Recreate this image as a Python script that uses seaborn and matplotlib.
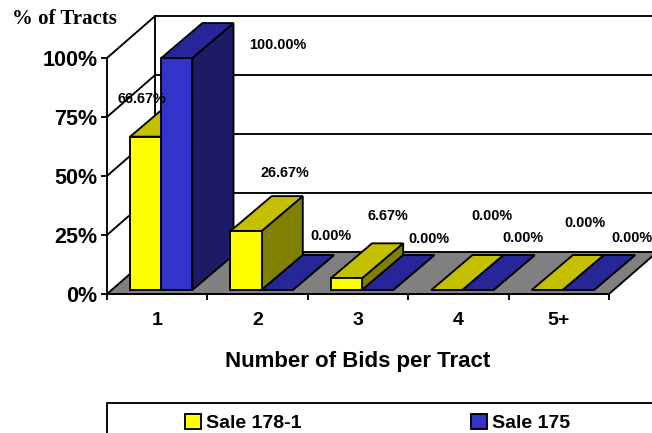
import matplotlib
matplotlib.use('Agg')
import matplotlib.pyplot as plt
from matplotlib.patches import Polygon, Rectangle
import pandas as pd
import seaborn as sns

bids = ['1', '2', '3', '4', '5+']
sale_names = ['Sale 178-1', 'Sale 175']
sale_178 = [66.67, 26.67, 6.67, 0.0, 0.0]
sale_175 = [100.0, 0.0, 0.0, 0.0, 0.0]
y_ticks = [0, 25, 50, 75, 100]

# colours per series: front, top, side
front_cols = ['#FFFF00', '#3333CC']
top_cols = ['#C4C000', '#262699']
side_cols = ['#808000', '#1C1C66']

# depth of the fake 3d box, in data units
wall_dx, wall_dy = 0.48, 17.8
bar_dx, bar_dy = 0.41, 14.8
bar_shift, bar_base = 0.04, 1.7

# label offsets from the top centre of each bar, pixels (right, up)
offs_178 = [(-4, 38), (39, 58), (41, 62), (45, 78), (38, 71)]
offs_175 = [(101, 13), (54, 58), (51, 55), (45, 56), (54, 56)]

LW = 1.35
FW, FH = 652, 433

sns.set_style('white')
plt.rcParams['font.family'] = ['Liberation Sans', 'DejaVu Sans']
plt.rcParams['font.weight'] = 'bold'
plt.rcParams['text.color'] = 'black'
plt.rcParams['axes.labelcolor'] = 'black'
plt.rcParams['xtick.labelcolor'] = 'black'
plt.rcParams['ytick.labelcolor'] = 'black'

df = pd.DataFrame({
    'bids': bids * 2,
    'pct': sale_178 + sale_175,
    'sale': [sale_names[0]] * 5 + [sale_names[1]] * 5,
})

fig = plt.figure(figsize=(FW / 100, FH / 100), dpi=100)
ax = fig.add_axes([107 / FW, 1 - 294 / FH, 502 / FW, 236 / FH])
ax.set_facecolor('none')

sns.barplot(data=df, x='bids', y='pct', hue='sale', order=bids, hue_order=sale_names,
            palette=front_cols, width=0.62, saturation=1, edgecolor='black',
            linewidth=LW, errorbar=None, ax=ax)
ax.set_xlim(-0.5, 4.5)
ax.set_ylim(0, 100)

# back wall and side wall
x0, x1 = ax.get_xlim()
for t in y_ticks[1:]:
    ax.plot([x0 + wall_dx, x1 + wall_dx], [t + wall_dy] * 2, color='black', lw=LW,
            clip_on=False, zorder=1)
for t in y_ticks[1:]:
    ax.plot([x0, x0 + wall_dx], [t, t + wall_dy], color='black', lw=LW, clip_on=False, zorder=1)
ax.plot([x0 + wall_dx] * 2, [wall_dy, 100 + wall_dy], color='black', lw=LW, clip_on=False, zorder=1)

# floor
ax.add_patch(Polygon([(x0, 0), (x1, 0), (x1 + wall_dx, wall_dy), (x0 + wall_dx, wall_dy)],
                     facecolor='#808080', edgecolor='black', lw=LW, clip_on=False, zorder=2))

# turn the flat bars into boxes
series = [sale_178, sale_175]
offsets = [offs_178, offs_175]
for k, cont in enumerate(ax.containers):
    for i, bar in enumerate(cont):
        v = series[k][i]
        left = bar.get_x() + bar_shift
        w = bar.get_width()
        top = max(v, bar_base)
        z = 10 + 3 * (2 * i + k)
        bar.set_x(left)
        bar.set_y(bar_base)
        bar.set_height(top - bar_base)
        bar.set_clip_on(False)
        bar.set_zorder(z + 2)
        bar.set_visible(v > 0)
        ax.add_patch(Polygon([(left + w, bar_base), (left + w + bar_dx, bar_base + bar_dy),
                              (left + w + bar_dx, top + bar_dy), (left + w, top)],
                             facecolor=side_cols[k], edgecolor='black', lw=LW,
                             clip_on=False, zorder=z))
        ax.add_patch(Polygon([(left, top), (left + w, top), (left + w + bar_dx, top + bar_dy),
                              (left + bar_dx, top + bar_dy)],
                             facecolor=top_cols[k], edgecolor='black', lw=LW,
                             clip_on=False, zorder=z + 1))
        ax.annotate(f'{v:.2f}%', xy=(left + w / 2, v), xytext=offsets[k][i],
                    textcoords='offset pixels', ha='center', va='center',
                    fontsize=10.4, color='black', zorder=100, annotation_clip=False)

# axes
sns.despine(ax=ax)
ax.spines['left'].set_linewidth(LW)
ax.spines['left'].set_color('black')
ax.spines['bottom'].set_linewidth(LW)
ax.spines['bottom'].set_color('black')
ax.spines['bottom'].set_zorder(5)
ax.set_yticks(y_ticks)
ax.set_yticklabels([f'{t}%' for t in y_ticks], fontsize=15.5, fontweight='bold')
ax.set_ylabel('')
ax.set_xticks(range(len(bids)))
ax.set_xticklabels(bids, fontsize=14, fontweight='bold')
ax.set_xticks([i - 0.5 for i in range(len(bids) + 1)], minor=True)
ax.tick_params(axis='x', which='major', length=0, pad=13)
ax.tick_params(axis='x', which='minor', length=4.5, width=LW, color='black', bottom=True)
ax.tick_params(axis='y', length=4, width=LW, color='black', pad=3, left=True)
ax.set_xlabel('Number of Bids per Tract', fontsize=16, fontweight='bold', labelpad=16, color='black')

fig.text(12 / FW, 1 - 19 / FH, '% of Tracts', family=['Liberation Serif'], fontweight='bold',
         fontsize=15, va='center', ha='left', color='black')

# legend box runs off the picture
fig.add_artist(Rectangle((107 / FW, -0.05), 1.0, 1 - 403 / FH + 0.05, transform=fig.transFigure,
                         facecolor='none', edgecolor='black', lw=LW))
sns.move_legend(ax, loc='upper left', bbox_to_anchor=(185 / FW, 1 - 414 / FH),
                bbox_transform=fig.transFigure, ncol=2, frameon=False, title=None,
                handlelength=0.8, handleheight=0.8, handletextpad=0.3,
                columnspacing=8.7, borderpad=0, borderaxespad=0,
                prop={'weight': 'bold', 'size': 14})

fig.savefig('out.png', dpi=100)
